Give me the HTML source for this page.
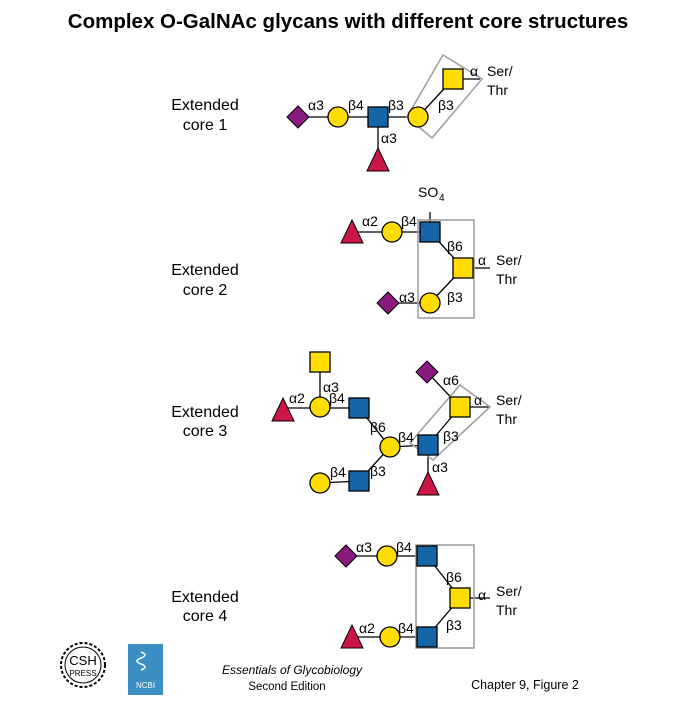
<!DOCTYPE html>
<html><head><style>
html,body{margin:0;padding:0;background:#fff;}
svg{display:block;}
text{font-family:"Liberation Sans",Arial,sans-serif;}
</style></head><body>
<svg width="700" height="707" viewBox="0 0 700 707" xmlns="http://www.w3.org/2000/svg">
<defs>
<g id="circ"><circle r="10" fill="#ffdd00" stroke="#000" stroke-width="1.3"/></g>
<g id="ysq"><rect x="-10" y="-10" width="20" height="20" fill="#ffdd00" stroke="#000" stroke-width="1.3"/></g>
<g id="bsq"><rect x="-10" y="-10" width="20" height="20" fill="#1466a8" stroke="#000" stroke-width="1.3"/></g>
<g id="dia"><polygon points="0,-11 11,0 0,11 -11,0" fill="#8b1a7e" stroke="#000" stroke-width="1"/></g>
<g id="tri"><polygon points="0,-12 11,11 -11,11" fill="#cc1646" stroke="#000" stroke-width="1"/></g>
</defs>
<text x="348" y="28" font-size="20.5" font-weight="bold" text-anchor="middle">Complex O-GalNAc glycans with different core structures</text>

<g font-size="16" text-anchor="middle">
<text x="205" y="110">Extended</text><text x="205" y="130">core 1</text>
<text x="205" y="275">Extended</text><text x="205" y="295">core 2</text>
<text x="205" y="417">Extended</text><text x="205" y="436">core 3</text>
<text x="205" y="602">Extended</text><text x="205" y="621">core 4</text>
</g>

<g stroke="#000" stroke-width="1.3" fill="none">
<line x1="298" y1="117" x2="418" y2="117"/><line x1="378" y1="117" x2="378" y2="160"/>
<line x1="418" y1="117" x2="453" y2="79"/><line x1="453" y1="79" x2="480" y2="79"/>
<line x1="352" y1="232" x2="430" y2="232"/><line x1="430" y1="232" x2="430" y2="212"/>
<line x1="430" y1="232" x2="463" y2="268"/><line x1="463" y1="268" x2="430" y2="303"/>
<line x1="430" y1="303" x2="388" y2="303"/><line x1="463" y1="268" x2="490" y2="268"/>
<line x1="320" y1="362" x2="320" y2="407"/><line x1="283" y1="408" x2="359" y2="408"/>
<line x1="359" y1="408" x2="390" y2="447"/><line x1="390" y1="447" x2="428" y2="445"/>
<line x1="390" y1="447" x2="359" y2="481"/><line x1="359" y1="481" x2="320" y2="483"/>
<line x1="428" y1="445" x2="460" y2="407"/><line x1="428" y1="445" x2="428" y2="483"/>
<line x1="427" y1="372" x2="460" y2="407"/><line x1="460" y1="407" x2="490" y2="407"/>
<line x1="346" y1="556" x2="427" y2="556"/><line x1="427" y1="556" x2="460" y2="598"/>
<line x1="460" y1="598" x2="427" y2="637"/><line x1="427" y1="637" x2="352" y2="637"/>
<line x1="460" y1="598" x2="490" y2="598"/>
</g>
<g stroke="#a0a0a0" stroke-width="1.6" fill="none">
<polygon points="443,55 482,79 432,138 407,117"/>
<rect x="418" y="220" width="56" height="98"/>
<polygon points="460,385 490,407 433,460 410,443"/>
<rect x="416" y="545" width="58" height="103"/>
</g>
<use href="#dia" x="298" y="117"/><use href="#circ" x="338" y="117"/><use href="#bsq" x="378" y="117"/>
<use href="#circ" x="418" y="117"/><use href="#ysq" x="453" y="79"/><use href="#tri" x="378" y="160"/>
<use href="#tri" x="352" y="232"/><use href="#circ" x="392" y="232"/><use href="#bsq" x="430" y="232"/>
<use href="#ysq" x="463" y="268"/><use href="#circ" x="430" y="303"/><use href="#dia" x="388" y="303"/>
<use href="#ysq" x="320" y="362"/><use href="#circ" x="320" y="407"/><use href="#tri" x="283" y="410"/>
<use href="#bsq" x="359" y="408"/><use href="#circ" x="390" y="447"/><use href="#bsq" x="428" y="445"/>
<use href="#ysq" x="460" y="407"/><use href="#dia" x="427" y="372"/><use href="#tri" x="428" y="484"/>
<use href="#circ" x="320" y="483"/><use href="#bsq" x="359" y="481"/>
<use href="#dia" x="346" y="556"/><use href="#circ" x="387" y="556"/><use href="#bsq" x="427" y="556"/>
<use href="#ysq" x="460" y="598"/><use href="#bsq" x="427" y="637"/><use href="#circ" x="390" y="637"/>
<use href="#tri" x="352" y="637"/>

<g font-size="14">
<text x="308" y="110">α3</text><text x="348" y="110">β4</text><text x="388" y="110">β3</text><text x="438" y="110">β3</text>
<text x="470" y="76">α</text><text x="487" y="76">Ser/</text><text x="487" y="95">Thr</text><text x="381" y="143">α3</text>
<text x="418" y="197">SO</text><text x="439" y="201" font-size="10">4</text>
<text x="362" y="226">α2</text><text x="401" y="226">β4</text><text x="447" y="251">β6</text>
<text x="478" y="265">α</text><text x="496" y="265">Ser/</text><text x="496" y="284">Thr</text>
<text x="447" y="302">β3</text><text x="399" y="302">α3</text>
<text x="323" y="392">α3</text><text x="289" y="403">α2</text><text x="329" y="403">β4</text>
<text x="370" y="432">β6</text><text x="398" y="442">β4</text><text x="443" y="441">β3</text>
<text x="443" y="385">α6</text><text x="474" y="405">α</text><text x="496" y="405">Ser/</text><text x="496" y="424">Thr</text>
<text x="370" y="476">β3</text><text x="330" y="477">β4</text><text x="432" y="472">α3</text>
<text x="356" y="552">α3</text><text x="396" y="552">β4</text><text x="446" y="582">β6</text>
<text x="478" y="600">α</text><text x="496" y="596">Ser/</text><text x="496" y="615">Thr</text>
<text x="446" y="630">β3</text><text x="359" y="633">α2</text><text x="398" y="633">β4</text>
</g>

<circle cx="83" cy="665" r="22" fill="none" stroke="#000" stroke-width="2" stroke-dasharray="3,2"/>
<circle cx="83" cy="665" r="18" fill="none" stroke="#000" stroke-width="1"/>
<text x="83" y="665" font-size="13" text-anchor="middle" font-family="Liberation Serif">CSH</text>
<text x="83" y="676" font-size="8" text-anchor="middle" font-family="Liberation Serif">PRESS</text>
<rect x="128" y="644" width="35" height="51" fill="#3c8fc4"/>
<path d="M141,652 q8,3 0,6 q-8,3 0,6 q8,3 0,6" stroke="#fff" fill="none" stroke-width="1.5"/>
<text x="145.5" y="688" font-size="8" fill="#fff" text-anchor="middle" font-family="Liberation Serif">NCBI</text>
<text x="292" y="674" font-size="12" font-style="italic" text-anchor="middle">Essentials of Glycobiology</text>
<text x="287" y="690" font-size="11.5" text-anchor="middle">Second Edition</text>
<text x="525" y="689" font-size="12.5" text-anchor="middle">Chapter 9, Figure  2</text>
</svg>
</body></html>
